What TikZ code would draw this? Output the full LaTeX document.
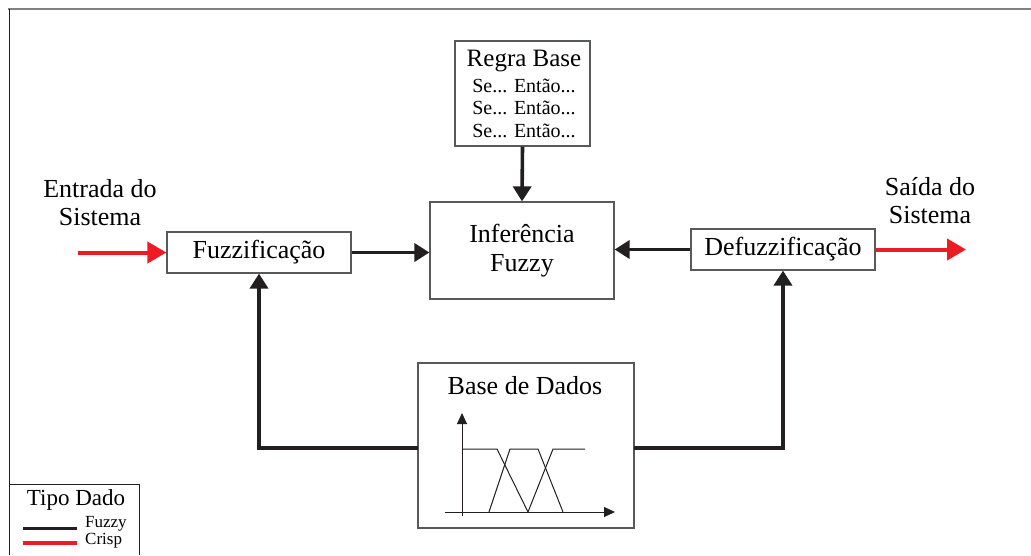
\documentclass[tikz,border=0pt]{standalone}
\usepackage{fontspec}
\setmainfont{Liberation Serif}
\usetikzlibrary{arrows.meta}
\definecolor{crisp}{HTML}{ED1C24}
\definecolor{ink}{HTML}{231F20}
\definecolor{edge}{HTML}{58595B}
\definecolor{rule}{HTML}{808285}

\begin{document}
\begin{tikzpicture}[x=1pt,y=-1pt,
  blockbox/.style={draw=edge, line width=1.2pt, fill=white, inner sep=0pt, align=center,
    font=\fontsize{26}{29}\selectfont},
  label/.style={inner sep=0pt, align=center, font=\fontsize{26}{28}\selectfont},
  ruletext/.style={inner sep=0pt, font=\fontsize{20}{22}\selectfont},
  fuzzyline/.style={draw=ink, line width=3.6pt, line join=miter,
    -{Triangle[length=15pt,width=18pt]}},
  crispline/.style={draw=crisp, line width=4pt, -{Triangle[length=19pt,width=21pt]}},
  mf/.style={draw=ink, line width=1pt},
  axis/.style={draw=ink, line width=1pt, -{Triangle[length=11pt,width=10pt]}}
]
\useasboundingbox (0,0) rectangle (1031,555);

% outer frame
\draw[rule, line width=2pt] (8,9) -- (1031,9);
\draw[ink, line width=0.8pt] (9,9) -- (9,555);

% processing blocks
\node[blockbox, minimum width=184pt, minimum height=41pt] (fuzz) at (259,252.5) {Fuzzificação};
\node[blockbox, minimum width=184pt, minimum height=97pt] (inf) at (522,250.5) {Inferência\\Fuzzy};
\node[blockbox, minimum width=184pt, minimum height=41pt] (defuzz) at (783,249.5) {Defuzzificação};
\node[blockbox, minimum width=135pt, minimum height=105pt] (rb) at (522.5,93.5) {};
\node[blockbox, minimum width=216pt, minimum height=165pt] (bd) at (526,445.5) {};

% rule base contents
\node[ruletext, font=\fontsize{25}{28}\selectfont] (rbt) at (524,61) {Regra Base};
\node[ruletext] (r1) at (524,86) {Se... Então...};
\node[ruletext] (r2) at (524,108) {Se... Então...};
\node[ruletext] (r3) at (524,131) {Se... Então...};

% database contents
\node[label] (bdt) at (525,386) {Base de Dados};
\draw[axis] (462,516) -- (462,413);
\draw[axis] (445,512) -- (615,512);
\draw[mf] (462,449) -- (497,449) -- (528,512);
\draw[mf] (489,512) -- (510,449) -- (538,449) -- (563,512);
\draw[mf] (528,512) -- (553,449) -- (585,449);

% input / output labels
\node[label] (inlab) at (100,203) {Entrada do\\Sistema};
\node[label] (outlab) at (930,201) {Saída do\\Sistema};

% crisp connectors
\coordinate (inp) at (78,252.5);
\coordinate (outp) at (966,249.5);
\draw[crispline] (inp) -- (fuzz.west);
\draw[crispline] (defuzz.east) -- (outp);

% fuzzy connectors
\draw[fuzzyline] (fuzz.east) -- (fuzz.east -| inf.west);
\draw[fuzzyline] (defuzz.west) -- (defuzz.west -| inf.east);
\draw[fuzzyline] (rb.south) -- (inf.north);
\coordinate (bdl) at (418,448);
\coordinate (bdr) at (634,448);
\draw[fuzzyline] (bdl) -| (fuzz.south);
\draw[fuzzyline] (bdr) -| (defuzz.south);

% legend
\draw[ink, line width=0.8pt] (9,484) -- (139,484) -- (139,555);
\node[inner sep=0pt, font=\fontsize{23}{26}\selectfont] (legt) at (76,500) {Tipo Dado};
\coordinate (lf1) at (23,528);
\coordinate (lf2) at (77,528);
\coordinate (lc1) at (23,543);
\coordinate (lc2) at (77,543);
\draw[ink, line width=3pt] (lf1) -- (lf2);
\draw[crisp, line width=3.5pt] (lc1) -- (lc2);
\node[inner sep=0pt, anchor=west, font=\fontsize{17}{20}\selectfont] (legf) at (85,524) {Fuzzy};
\node[inner sep=0pt, anchor=west, font=\fontsize{17}{20}\selectfont] (legc) at (85,541) {Crisp};
\end{tikzpicture}
\end{document}
